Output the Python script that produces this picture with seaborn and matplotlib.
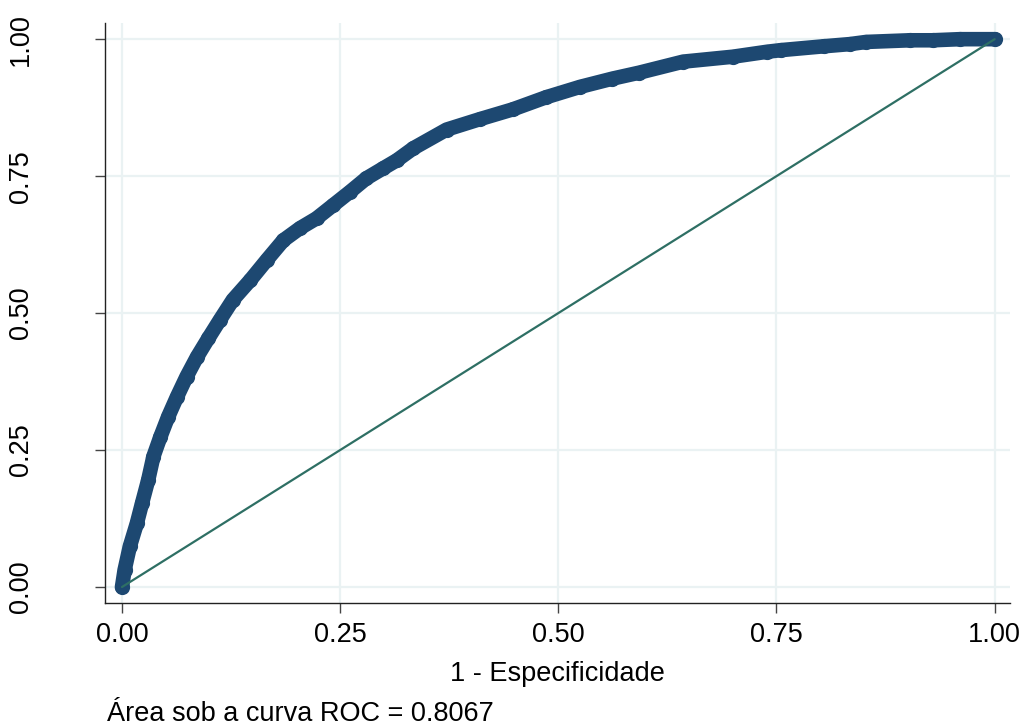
import matplotlib
matplotlib.use("Agg")
import matplotlib.pyplot as plt
import seaborn as sns
import pandas as pd

# ROC curve points (1 - specificity, sensitivity)
fpr = [0.000, 0.003, 0.009, 0.017, 0.023, 0.030, 0.036, 0.044, 0.053, 0.063,
       0.074, 0.086, 0.099, 0.112, 0.127, 0.147, 0.166, 0.185, 0.204, 0.223,
       0.242, 0.261, 0.280, 0.299, 0.315, 0.334, 0.372, 0.410, 0.448, 0.486,
       0.525, 0.562, 0.593, 0.643, 0.700, 0.739, 0.755, 0.804, 0.834, 0.853,
       0.903, 0.929, 0.960, 1.000]
tpr = [0.000, 0.031, 0.074, 0.116, 0.153, 0.195, 0.238, 0.274, 0.311, 0.347,
       0.384, 0.420, 0.454, 0.487, 0.524, 0.560, 0.597, 0.633, 0.655, 0.673,
       0.697, 0.721, 0.746, 0.764, 0.779, 0.801, 0.835, 0.854, 0.872, 0.894,
       0.913, 0.928, 0.939, 0.959, 0.968, 0.977, 0.980, 0.987, 0.991, 0.995,
       0.998, 0.998, 1.000, 1.000]
ref_x = [0.0, 1.0]
ref_y = [0.0, 1.0]
ticks = [0.0, 0.25, 0.5, 0.75, 1.0]
tick_labels = ["0.00", "0.25", "0.50", "0.75", "1.00"]
xlabel = "1 - Especificidade"
caption = "Área sob a curva ROC = 0.8067"

sns.set_theme(style="white")
plt.rcParams["font.family"] = ["Liberation Sans", "DejaVu Sans"]
plt.rcParams["text.color"] = "black"
plt.rcParams["xtick.labelcolor"] = "black"
plt.rcParams["ytick.labelcolor"] = "black"
plt.rcParams["axes.labelcolor"] = "black"

fig = plt.figure(figsize=(10.24, 7.28), dpi=100)
ax = fig.add_axes([0.1025, 0.1717, 0.8835, 0.7963])

navy = "#1d4871"
teal = "#2e6f64"
grid = "#eaf2f3"

df = pd.DataFrame({"fpr": fpr, "tpr": tpr})
sns.lineplot(data=df, x="fpr", y="tpr", sort=False, color=navy, lw=10.5,
             solid_capstyle="round", solid_joinstyle="round", ax=ax, zorder=3)
sns.scatterplot(data=df, x="fpr", y="tpr", color=navy, s=120, edgecolor=navy,
                linewidth=0, ax=ax, zorder=4)
sns.lineplot(x=ref_x, y=ref_y, color=teal, lw=1.6, ax=ax, zorder=5)

ax.set_xlim(-0.0195, 1.0172)
ax.set_ylim(-0.0292, 1.029)
ax.set_xticks(ticks)
ax.set_xticklabels(tick_labels)
ax.set_yticks(ticks)
ax.set_yticklabels(tick_labels, rotation=90, va="center")
for t in ticks:
    ax.axvline(t, color=grid, lw=1.6, zorder=0)
    ax.axhline(t, color=grid, lw=1.6, zorder=0)
ax.grid(False)

for s in ["top", "right"]:
    ax.spines[s].set_visible(False)
for s in ["left", "bottom"]:
    ax.spines[s].set_color("#222222")
    ax.spines[s].set_linewidth(1.0)

ax.tick_params(axis="x", direction="out", length=7, width=1, color="#444444",
               labelsize=19.5, pad=7, bottom=True)
ax.tick_params(axis="y", direction="out", length=7, width=1, color="#444444",
               labelsize=19.5, pad=44, left=True)
ax.set_xlabel(xlabel, fontsize=19.5, labelpad=9)
ax.set_ylabel("")

fig.text(0.1045, 0.0096, caption, fontsize=19.5, ha="left", va="baseline")

fig.savefig("out.png", dpi=100, facecolor="white")
